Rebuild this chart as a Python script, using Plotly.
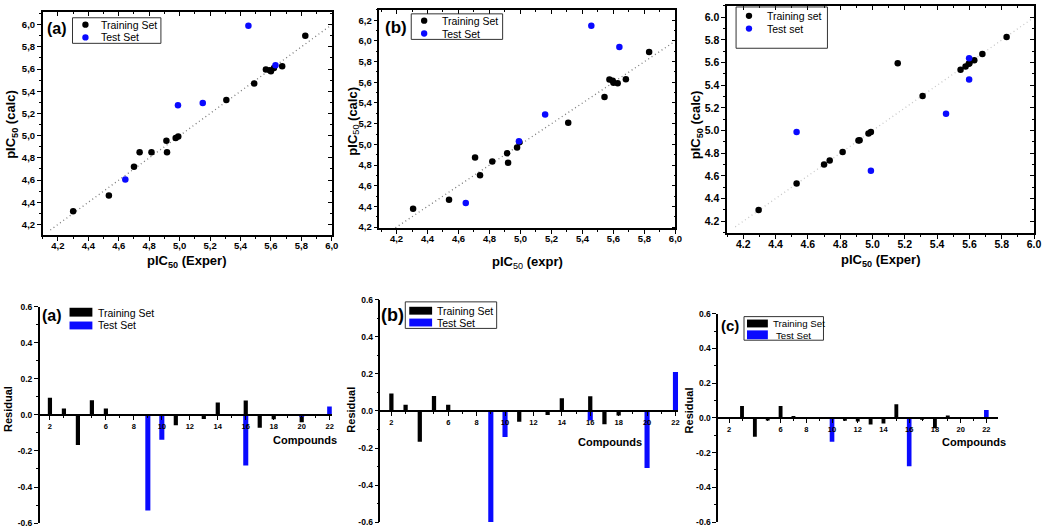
import plotly.graph_objects as go

W, H = 1051, 530
FONT = "Liberation Sans, Arial, sans-serif"
BLUE = "#0a0aff"

# ---------------- Data: top scatter panels ----------------
a_train_exp = [4.30, 4.535, 4.70, 4.737, 4.815, 4.913, 4.917, 4.974, 4.991, 5.307, 5.49, 5.567, 5.593, 5.60, 5.62, 5.674, 5.826]
a_train_calc = [4.32, 4.46, 4.72, 4.85, 4.85, 4.954, 4.85, 4.978, 4.993, 5.321, 5.47, 5.597, 5.59, 5.58, 5.61, 5.626, 5.90]
a_test_exp = [4.643, 4.989, 5.152, 5.452, 5.63]
a_test_calc = [4.605, 5.274, 5.295, 5.99, 5.635]

b_train_exp = [4.307, 4.539, 4.707, 4.739, 4.818, 4.914, 4.92, 4.978, 4.993, 5.308, 5.542, 5.574, 5.595, 5.60, 5.627, 5.68, 5.83]
b_train_calc = [4.377, 4.465, 4.873, 4.702, 4.835, 4.914, 4.822, 4.97, 5.02, 5.21, 5.457, 5.628, 5.615, 5.597, 5.59, 5.63, 5.893]
b_test_exp = [4.647, 4.99, 5.159, 5.457, 5.638]
b_test_calc = [4.434, 5.03, 5.29, 6.146, 5.941]

c_train_exp = [4.295, 4.53, 4.70, 4.735, 4.815, 4.913, 4.92, 4.975, 4.99, 5.156, 5.31, 5.545, 5.576, 5.596, 5.60, 5.63, 5.68, 5.83]
c_train_calc = [4.30, 4.533, 4.70, 4.735, 4.81, 4.912, 4.915, 4.975, 4.987, 5.595, 5.305, 5.537, 5.566, 5.589, 5.595, 5.62, 5.676, 5.826]
c_test_exp = [4.53, 4.99, 5.455, 5.598, 5.598]
c_test_calc = [4.987, 4.645, 5.149, 5.45, 5.638]

diag_line = [4.15, 6.0]

# ---------------- Data: bottom residual panels ----------------
ra_train_x = [2, 3, 4, 5, 6, 11, 13, 14, 16, 17, 18, 20]
ra_train_y = [0.095, 0.036, -0.167, 0.082, 0.036, -0.058, -0.022, 0.069, 0.08, -0.071, -0.024, -0.04]
ra_test_x = [9, 10, 16, 20, 22]
ra_test_y = [-0.531, -0.138, -0.28, -0.005, 0.047]

rb_train_x = [2, 3, 4, 5, 6, 11, 13, 14, 16, 17, 18]
rb_train_y = [0.094, 0.034, -0.166, 0.081, 0.034, -0.058, -0.021, 0.069, 0.08, -0.071, -0.025]
rb_test_x = [9, 10, 16, 20, 22]
rb_test_y = [-0.60, -0.14, -0.051, -0.308, 0.211]

rc_train_x = [3, 4, 5, 6, 7, 11, 12, 13, 14, 15, 17, 18, 19]
rc_train_y = [0.068, -0.109, -0.015, 0.068, 0.011, -0.017, -0.021, -0.038, -0.032, 0.079, -0.009, -0.06, 0.013]
rc_test_x = [10, 16, 22]
rc_test_y = [-0.138, -0.279, 0.045]

# ---------------- Tick labels ----------------
pic_ticks_x = [4.2, 4.4, 4.6, 4.8, 5.0, 5.2, 5.4, 5.6, 5.8, 6.0]
pic_text_comma = ["4,2", "4,4", "4,6", "4,8", "5,0", "5,2", "5,4", "5,6", "5,8", "6,0"]
pic_text_dot = ["4.2", "4.4", "4.6", "4.8", "5.0", "5.2", "5.4", "5.6", "5.8", "6.0"]
b_ticks_y = [4.2, 4.4, 4.6, 4.8, 5.0, 5.2, 5.4, 5.6, 5.8, 6.0, 6.2]
b_text_y = ["4,2", "4,4", "4,6", "4,8", "5,0", "5,2", "5,4", "5,6", "5,8", "6,0", "6,2"]
cmp_ticks = [2, 6, 8, 10, 12, 14, 16, 18, 20, 22]
cmp_text = ["2", "6", "8", "10", "12", "14", "16", "18", "20", "22"]
res_ticks = [-0.6, -0.4, -0.2, 0.0, 0.2, 0.4, 0.6]
res_text = ["-0.6", "-0.4", "-0.2", "0.0", "0.2", "0.4", "0.6"]


def px(x):
    return x / W


def py(y):
    return 1 - y / H


fig = go.Figure()
layout = dict(width=W, height=H, margin=dict(l=0, r=0, t=0, b=0),
              paper_bgcolor="white", plot_bgcolor="white", showlegend=False,
              font=dict(family=FONT, color="black"), barmode="overlay")
shapes, annotations = [], []

# ---------------- Top scatter panels ----------------
top_panels = [
    dict(n="", m="7", tx=a_train_exp, ty=a_train_calc, sx=a_test_exp, sy=a_test_calc,
         xd=[px(43), px(334)], yd=[py(234), py(7)], xr=[4.1, 6.0], yr=[4.105, 6.115],
         xtt=pic_text_comma, ytv=pic_ticks_x, ytt=pic_text_comma, lc="#7a7a7a", fs=9.5),
    dict(n="2", m="8", tx=b_train_exp, ty=b_train_calc, sx=b_test_exp, sy=b_test_calc,
         xd=[px(382), px(680)], yd=[py(227), py(5)], xr=[4.09, 6.0], yr=[4.19, 6.3],
         xtt=pic_text_comma, ytv=b_ticks_y, ytt=b_text_y, lc="#7a7a7a", fs=9.5),
    dict(n="3", m="9", tx=c_train_exp, ty=c_train_calc, sx=c_test_exp, sy=c_test_calc,
         xd=[px(732), px(1041)], yd=[py(231.7), py(1)], xr=[4.1, 6.0], yr=[4.098, 6.1],
         xtt=pic_text_dot, ytv=pic_ticks_x, ytt=pic_text_dot, lc="#c8c8c8", fs=10.5),
]

for p in top_panels:
    xa, ya = "x" + p["n"], "y" + p["n"]
    xm, ym = "x" + p["m"], "y" + p["m"]
    fig.add_trace(go.Scatter(x=diag_line, y=diag_line, mode="lines", xaxis=xa, yaxis=ya,
                             line=dict(color=p["lc"], width=1.3, dash="1px,3px")))
    fig.add_trace(go.Scatter(x=p["tx"], y=p["ty"], mode="markers", xaxis=xa, yaxis=ya,
                             marker=dict(color="black", size=6.5)))
    fig.add_trace(go.Scatter(x=p["sx"], y=p["sy"], mode="markers", xaxis=xa, yaxis=ya,
                             marker=dict(color=BLUE, size=6.5)))
    # invisible traces to hold the mirrored (inside-tick) top/right axes
    fig.add_trace(go.Scatter(x=[None], y=[None], xaxis=xm, yaxis=ya, hoverinfo="skip"))
    fig.add_trace(go.Scatter(x=[None], y=[None], xaxis=xa, yaxis=ym, hoverinfo="skip"))
    common = dict(showline=True, linecolor="black", linewidth=1.5,
                  ticklen=4, tickwidth=1.2, tickcolor="black",
                  showgrid=False, zeroline=False,
                  tickfont=dict(family=FONT, size=p["fs"], color="black", weight="bold"))
    layout["xaxis" + p["n"]] = dict(domain=p["xd"], range=p["xr"], anchor=ya, ticks="outside",
                                    tickmode="array", tickvals=pic_ticks_x, ticktext=p["xtt"],
                                    ticklabelstandoff=-3,
                                    minor=dict(tickmode="linear", tick0=4.1, dtick=0.1,
                                               ticks="outside", ticklen=2, tickcolor="black"),
                                    **common)
    layout["yaxis" + p["n"]] = dict(domain=p["yd"], range=p["yr"], anchor=xa, ticks="outside",
                                    tickmode="array", tickvals=p["ytv"], ticktext=p["ytt"],
                                    minor=dict(tickmode="linear", tick0=4.1, dtick=0.1,
                                               ticks="outside", ticklen=2, tickcolor="black"),
                                    **common)
    layout["xaxis" + p["m"]] = dict(overlaying=xa, anchor=ya, side="top", range=p["xr"],
                                    showline=True, linecolor="black", linewidth=1.5,
                                    ticks="inside", ticklen=4, tickwidth=1.2, tickcolor="black",
                                    tickmode="array", tickvals=pic_ticks_x, showticklabels=False,
                                    minor=dict(tickmode="linear", tick0=4.1, dtick=0.1,
                                               ticks="inside", ticklen=2, tickcolor="black"),
                                    showgrid=False, zeroline=False)
    layout["yaxis" + p["m"]] = dict(overlaying=ya, anchor=xa, side="right", range=p["yr"],
                                    showline=True, linecolor="black", linewidth=1.5,
                                    ticks="inside", ticklen=4, tickwidth=1.2, tickcolor="black",
                                    tickmode="array", tickvals=p["ytv"], showticklabels=False,
                                    minor=dict(tickmode="linear", tick0=4.1, dtick=0.1,
                                               ticks="inside", ticklen=2, tickcolor="black"),
                                    showgrid=False, zeroline=False)

# ---------------- Bottom residual panels ----------------
bottom_panels = [
    dict(n="4", tx=ra_train_x, ty=ra_train_y, sx=ra_test_x, sy=ra_test_y,
         xd=[px(39), px(334)], yd=[py(527), py(307)], xr=[1.2, 22.15]),
    dict(n="5", tx=rb_train_x, ty=rb_train_y, sx=rb_test_x, sy=rb_test_y,
         xd=[px(382), px(683)], yd=[py(526), py(300)], xr=[1.16, 22.21]),
    dict(n="6", tx=rc_train_x, ty=rc_train_y, sx=rc_test_x, sy=rc_test_y,
         xd=[px(722), px(1005)], yd=[py(526), py(314)], xr=[1.07, 22.93]),
]

for p in bottom_panels:
    xa, ya = "x" + p["n"], "y" + p["n"]
    fig.add_trace(go.Bar(x=p["tx"], y=p["ty"], xaxis=xa, yaxis=ya, width=0.3,
                         marker=dict(color="black", line=dict(width=0))))
    fig.add_trace(go.Bar(x=p["sx"], y=p["sy"], xaxis=xa, yaxis=ya, width=0.36,
                         marker=dict(color=BLUE, line=dict(width=0))))
    mid = (p["yd"][0] + p["yd"][1]) / 2
    layout["xaxis" + p["n"]] = dict(domain=p["xd"], range=p["xr"], anchor="free", position=mid,
                                    showline=True, linecolor="black", linewidth=1.5,
                                    ticks="outside", ticklen=4, tickwidth=1.2, tickcolor="black",
                                    tickmode="array", tickvals=cmp_ticks, ticktext=cmp_text,
                                    minor=dict(tickmode="linear", tick0=1, dtick=1,
                                               ticks="outside", ticklen=2, tickcolor="black"),
                                    showgrid=False, zeroline=False,
                                    tickfont=dict(family=FONT, size=7.5, color="black", weight="bold"))
    layout["yaxis" + p["n"]] = dict(domain=p["yd"], range=[-0.6, 0.6], anchor="free", position=p["xd"][0],
                                    showline=True, linecolor="black", linewidth=1.5,
                                    ticks="outside", ticklen=4, tickwidth=1.2, tickcolor="black",
                                    tickmode="array", tickvals=res_ticks, ticktext=res_text,
                                    minor=dict(tickmode="linear", tick0=-0.6, dtick=0.1,
                                               ticks="outside", ticklen=2, tickcolor="black"),
                                    showgrid=False, zeroline=False,
                                    tickfont=dict(family=FONT, size=8.5, color="black", weight="bold"))


def ann(x, y, text, size, angle=0, xanchor="center", bold=True):
    annotations.append(dict(x=px(x), y=py(y), xref="paper", yref="paper", text=text,
                            showarrow=False, textangle=angle, xanchor=xanchor, yanchor="middle",
                            font=dict(family=FONT, size=size, color="black",
                                      weight="bold" if bold else "normal")))


def box(x0, y0, x1, y1):
    shapes.append(dict(type="rect", xref="paper", yref="paper", x0=px(x0), x1=px(x1),
                       y0=py(y1), y1=py(y0), line=dict(color="#333333", width=1)))


def dot(x, y, color, r=3.2):
    shapes.append(dict(type="circle", xref="paper", yref="paper", x0=px(x - r), x1=px(x + r),
                       y0=py(y + r), y1=py(y - r), fillcolor=color, line=dict(width=0)))


def swatch(x0, y0, x1, y1, color):
    shapes.append(dict(type="rect", xref="paper", yref="paper", x0=px(x0), x1=px(x1),
                       y0=py(y1), y1=py(y0), fillcolor=color, line=dict(width=0)))


# axis titles (top)
ann(12, 121, "pIC<sub>50</sub> (calc)", 13, angle=-90)
ann(188, 261, "pIC<sub>50</sub> (Exper)", 13)
ann(356, 118, "<b>pIC</b><span style='font-weight:normal'><sub>50</sub></span><b> (calc)</b>", 13, angle=-90)
ann(531, 262, "<b>pIC</b><span style='font-weight:normal'><sub>50</sub></span><b> (expr)</b>", 13)
ann(702, 122, "pIC<sub>50</sub> (calc)", 13, angle=-90)
ann(886, 260, "pIC<sub>50</sub> (Exper)", 13)

# top legends
box(73, 13, 162, 39)
dot(86, 20, "black"); dot(86, 33, BLUE)
ann(100, 20, "Training Set", 10.5, xanchor="left", bold=False)
ann(100, 33, "Test Set", 10.5, xanchor="left", bold=False)
ann(57, 24, "(a)", 16)

box(414, 9, 506, 35)
dot(427, 16, "black"); dot(427, 29, BLUE)
ann(443, 16, "Training Set", 10.5, xanchor="left", bold=False)
ann(443, 29, "Test Set", 10.5, xanchor="left", bold=False)
ann(399, 23, "(b)", 17)

box(741, 2, 833, 44)
dot(754, 11, "black"); dot(754, 24, BLUE)
ann(770, 11, "Training set", 10.5, xanchor="left", bold=False)
ann(770, 24, "Test set", 10.5, xanchor="left", bold=False)

# bottom titles
for xx, yy, cx, cy in [(8, 411, 307, 443), (353, 412, 614, 445), (694, 412, 981, 445)]:
    ann(xx, yy, "Residual", 11, angle=-90)
    ann(cx, cy, "Compounds", 11)

# bottom legends
swatch(70, 308, 93, 317, "black"); swatch(70, 322, 93, 330, BLUE)
ann(97, 313, "Training Set", 10.5, xanchor="left", bold=False)
ann(97, 326, "Test Set", 10.5, xanchor="left", bold=False)
ann(52, 316, "(a)", 16)

box(408, 302, 500, 329)
swatch(412, 307, 435, 315, "black"); swatch(412, 319, 435, 327, BLUE)
ann(438, 311, "Training Set", 10.5, xanchor="left", bold=False)
ann(438, 323, "Test Set", 10.5, xanchor="left", bold=False)
ann(395, 315, "(b)", 18)

box(749, 317, 829, 341)
swatch(752, 320, 773, 328, "black"); swatch(752, 331, 773, 340, BLUE)
ann(776, 324, "Training Set", 9.7, xanchor="left", bold=False)
ann(779, 336, "Test Set", 9.7, xanchor="left", bold=False)
ann(735, 326, "(c)", 15)

layout["shapes"] = shapes
layout["annotations"] = annotations
fig.update_layout(**layout)

fig.write_html("out.html", config={"displayModeBar": False},
               post_script="document.body.style.margin='0';document.body.style.overflow='hidden';")
